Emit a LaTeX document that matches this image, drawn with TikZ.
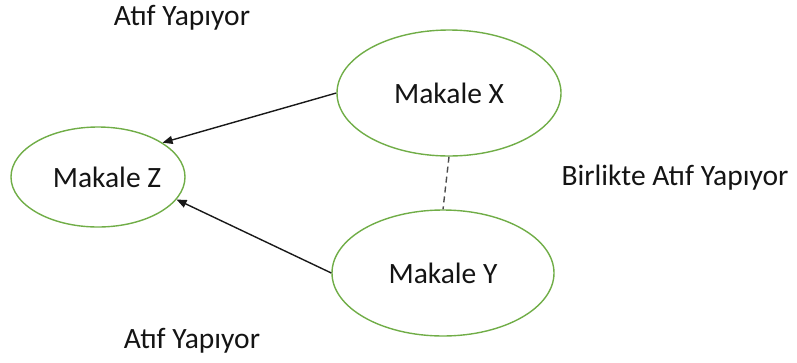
\documentclass[tikz,border=0pt]{standalone}
\usepackage{fontspec}
\setmainfont{Carlito}
\usetikzlibrary{shapes.geometric,arrows.meta}
\definecolor{nodegreen}{RGB}{112,173,71}
\begin{document}
\begin{tikzpicture}[x=1pt,y=-1pt,
  every node/.style={font=\fontsize{29.5}{35}\selectfont, text=black!92},
  every label/.style={font=\fontsize{29.5}{35}\selectfont, text=black!92},
  paper/.style={ellipse, draw=nodegreen, line width=1.4pt, inner sep=0pt},
  cites/.style={draw=black!90, line width=1.4pt, -{Triangle[length=10pt,width=8pt]}},
  cocite/.style={draw=black!70, line width=1.4pt, dash pattern=on 6pt off 4pt}]
  \useasboundingbox (0,0) rectangle (797,362);
  % articles
  \node[paper, minimum width=174pt, minimum height=100pt,
        label={[xshift=9pt]center:Makale Z}] (Z) at (98,177) {};
  \node[paper, minimum width=224pt, minimum height=126pt] (X) at (449,93) {Makale X};
  \node[paper, minimum width=222pt, minimum height=126pt] (Y) at (443,273) {Makale Y};
  % relation labels
  \node (top) at (182,18) {Atıf Yapıyor};
  \node (bottom) at (192,341) {Atıf Yapıyor};
  \node (co) at (675,178) {Birlikte Atıf Yapıyor};
  % citation links
  \draw[cites] (X.west) -- (Z.28);
  \draw[cites] (Y.west) -- (Z.-16);
  \draw[cocite] (X.south) -- (Y.north);
\end{tikzpicture}
\end{document}
